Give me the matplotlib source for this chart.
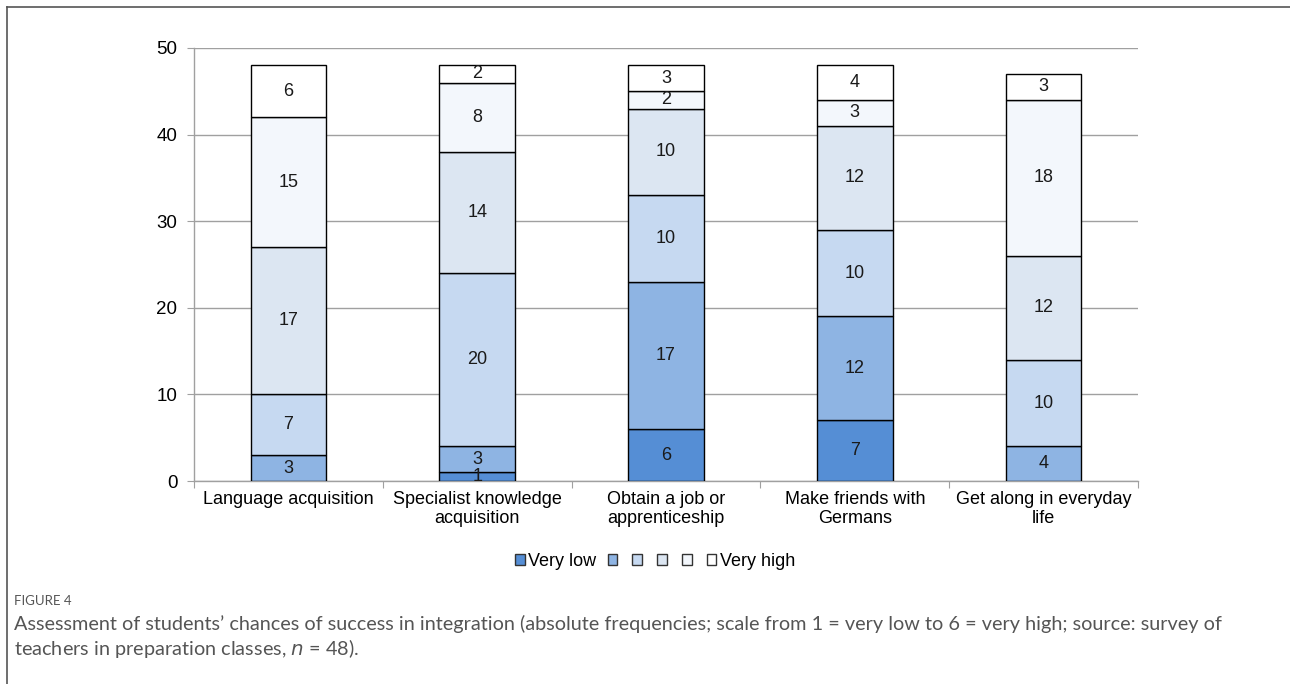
import matplotlib
matplotlib.use("Agg")
import matplotlib.pyplot as plt
import matplotlib.patches as mpatches
from matplotlib.lines import Line2D
import numpy as np

plt.rcParams["font.family"] = ["Liberation Sans", "DejaVu Sans"]

categories = [
    "Language acquisition",
    "Specialist knowledge\nacquisition",
    "Obtain a job or\napprenticeship",
    "Make friends with\nGermans",
    "Get along in everyday\nlife",
]
level_names = ["Very low", "", "", "", "", "Very high"]

# answer counts per scale level (1 = very low ... 6 = very high)
very_low = [0, 1, 6, 7, 0]
level_2 = [3, 3, 17, 12, 4]
level_3 = [7, 20, 10, 10, 10]
level_4 = [17, 14, 10, 12, 12]
level_5 = [15, 8, 2, 3, 18]
very_high = [6, 2, 3, 4, 3]
series = [very_low, level_2, level_3, level_4, level_5, very_high]

colors = ["#558ED5", "#8EB4E3", "#C6D9F1", "#DCE6F2", "#F3F7FC", "#FFFFFF"]

fig = plt.figure(figsize=(12.9, 6.84), dpi=100)
ax = fig.add_axes([194 / 1290, 1 - 481 / 684, 944 / 1290, 433 / 684])

x = np.arange(len(categories))
bottom = np.zeros(len(categories))
for vals, col in zip(series, colors):
    vals = np.array(vals, dtype=float)
    bars = ax.bar(x, vals, 0.4, bottom=bottom, color=col, edgecolor="black",
                  linewidth=1.0, zorder=3)
    ax.bar_label(bars, labels=[f"{v:.0f}" if v > 0 else "" for v in vals],
                 label_type="center", fontsize=13, color="#1a1a1a", zorder=4)
    bottom += vals

ax.set_xlim(-0.5, len(categories) - 0.5)
ax.set_ylim(0, 50)
ax.set_yticks(range(0, 51, 10))
ax.yaxis.grid(True, color="#A0A0A0", linewidth=1.0, zorder=0)
ax.set_axisbelow(True)

# category ticks between groups, labels at group centres
ax.set_xticks(np.arange(-0.5, len(categories), 1.0))
ax.set_xticklabels([])
ax.set_xticks(x, minor=True)
ax.set_xticklabels(categories, minor=True, fontsize=13)
ax.tick_params(axis="x", which="minor", length=0, pad=7)
ax.tick_params(axis="x", which="major", length=5, color="#A0A0A0")
ax.tick_params(axis="y", length=5, color="#A0A0A0", labelsize=13.5, pad=7)

for side in ("top", "right"):
    ax.spines[side].set_visible(False)
for side in ("left", "bottom"):
    ax.spines[side].set_color("#A0A0A0")
    ax.spines[side].set_linewidth(1.0)

handles = [mpatches.Patch(facecolor=c, edgecolor="#333333", linewidth=1.0) for c in colors]
fig.legend(handles, level_names, loc="center", bbox_to_anchor=(655 / 1290, 1 - 561 / 684),
           ncol=6, frameon=False, fontsize=13, handlelength=0.55, handleheight=0.55,
           handletextpad=0.2, columnspacing=0.62)

# figure frame (top and left rules)
fig.add_artist(Line2D([7 / 1290, 1.0], [1 - 7 / 684, 1 - 7 / 684], color="#555555",
                      linewidth=1.2, transform=fig.transFigure))
fig.add_artist(Line2D([7 / 1290, 7 / 1290], [0, 1 - 7 / 684], color="#555555",
                      linewidth=1.2, transform=fig.transFigure))

fig.text(14 / 1290, 1 - 601 / 684, "FIGURE 4", fontsize=9.5, color="#555555",
         family="Lato", va="center", ha="left")
fig.text(14 / 1290, 1 - 624 / 684,
         "Assessment of students\u2019 chances of success in integration (absolute frequencies; "
         "scale from 1 = very low to 6 = very high; source: survey of",
         fontsize=14.3, color="#555555", family="Lato", va="center", ha="left")
fig.text(14 / 1290, 1 - 648 / 684,
         "teachers in preparation classes, $n$ = 48).",
         fontsize=14.3, color="#555555", family="Lato", va="center", ha="left")

fig.savefig("out.png", dpi=100)
